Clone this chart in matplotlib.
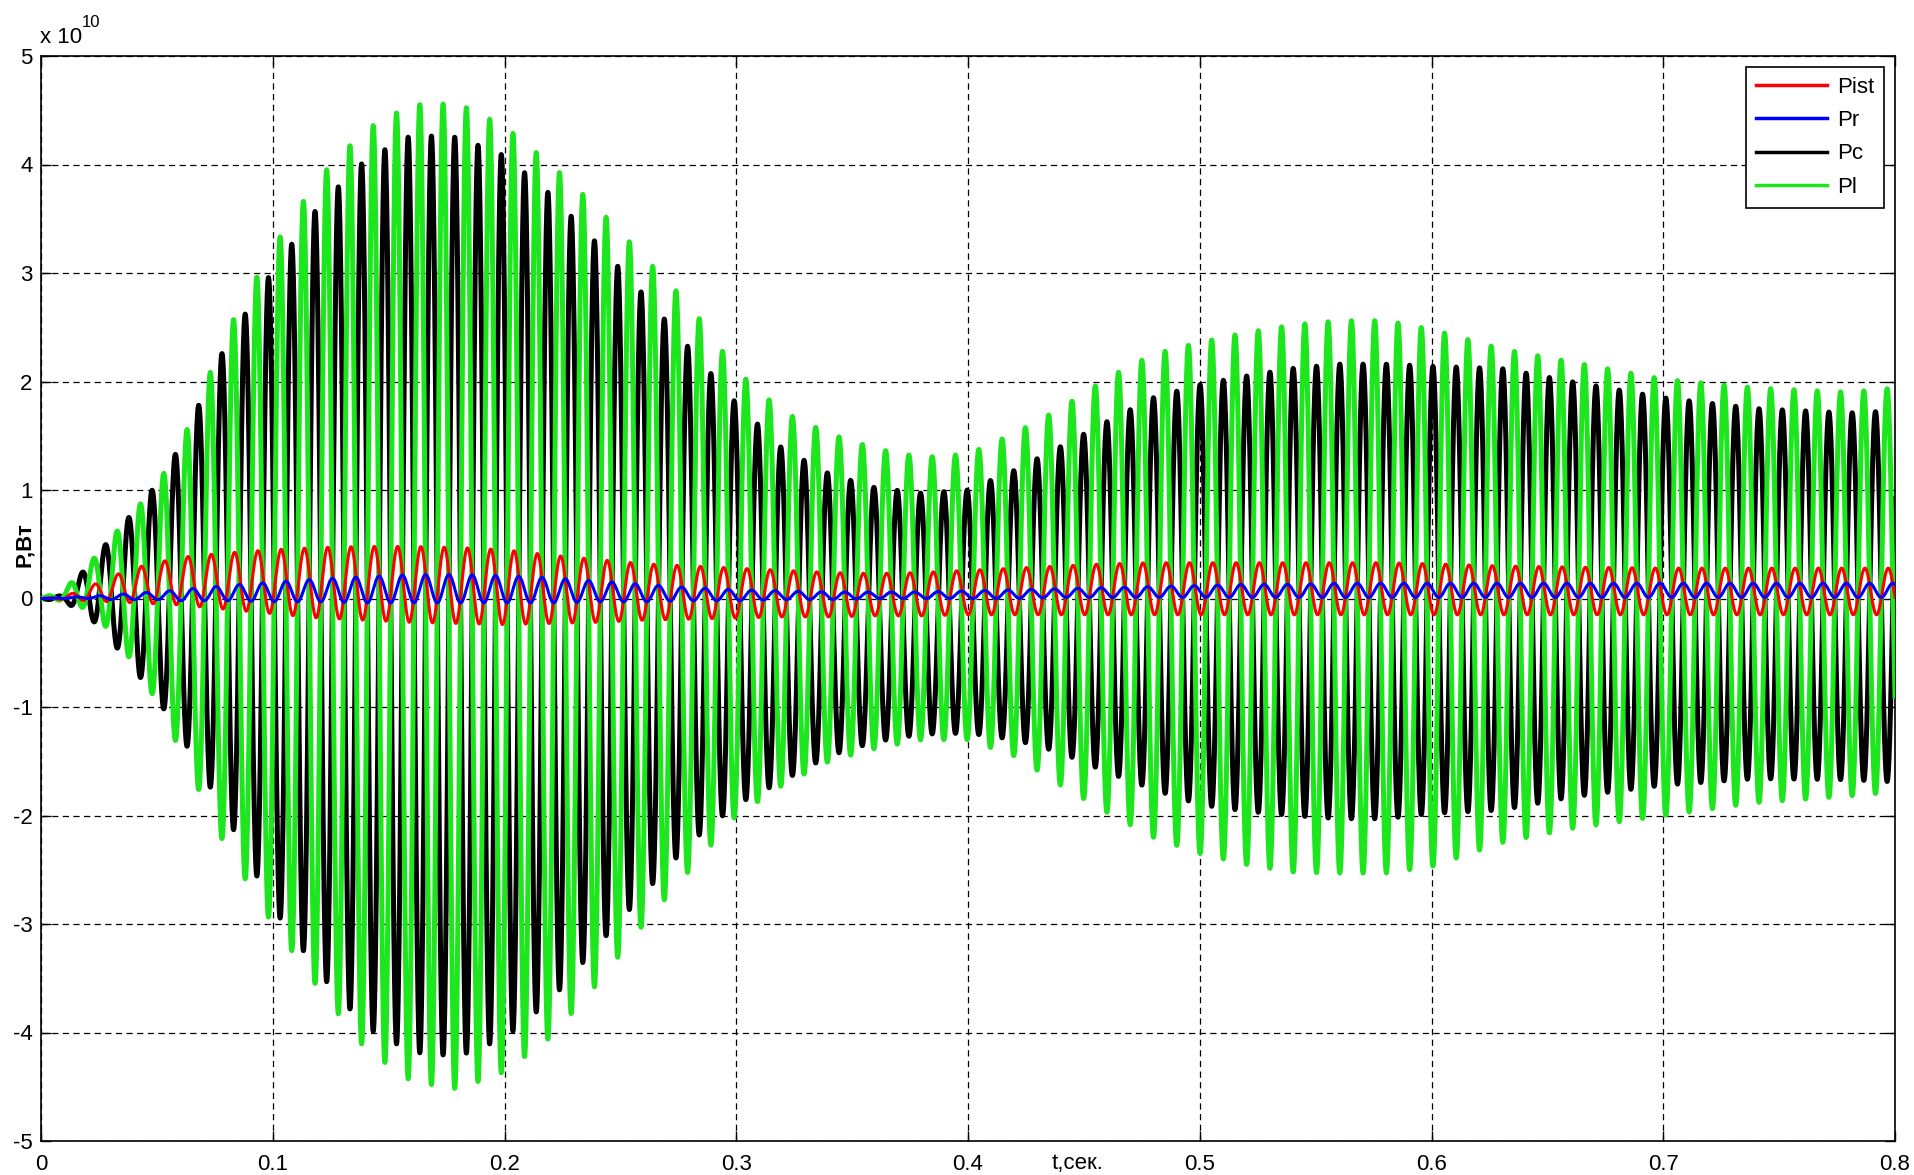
import numpy as np
import matplotlib
matplotlib.use("Agg")
import matplotlib.pyplot as plt

# envelope readings (x 1e10 W) at these times [s]
t_env = [0.00, 0.01, 0.02, 0.03, 0.04, 0.05, 0.06,
         0.08, 0.10, 0.12, 0.14, 0.16, 0.18, 0.20, 0.22, 0.24, 0.26, 0.28,
         0.30, 0.32, 0.34, 0.36, 0.38, 0.40, 0.42, 0.44, 0.46, 0.48, 0.50,
         0.52, 0.54, 0.56, 0.58, 0.60,
         0.63, 0.66, 0.70, 0.74, 0.78, 0.80]

pl_top = [0.00, 0.08, 0.30, 0.55, 0.80, 1.05, 1.40,
          2.45, 3.23, 3.88, 4.32, 4.55, 4.56, 4.35, 4.00, 3.60, 3.15, 2.70,
          2.10, 1.72, 1.52, 1.38, 1.30, 1.33, 1.52, 1.75, 2.03, 2.25, 2.36,
          2.45, 2.52, 2.56, 2.56, 2.48,
          2.30, 2.18, 2.02, 1.94, 1.90, 1.94]
pl_bot = [0.00, -0.02, -0.10, -0.30, -0.60, -0.95, -1.40,
          -2.30, -3.00, -3.60, -4.15, -4.45, -4.52, -4.36, -4.04, -3.55, -3.00, -2.50,
          -2.00, -1.72, -1.50, -1.38, -1.30, -1.30, -1.45, -1.72, -1.97, -2.20, -2.35,
          -2.45, -2.52, -2.53, -2.53, -2.47,
          -2.25, -2.12, -2.00, -1.88, -1.82, -1.78]

pc_top = [0.00, 0.03, 0.30, 0.55, 0.80, 1.05, 1.40,
          2.35, 3.02, 3.62, 4.04, 4.27, 4.25, 4.08, 3.72, 3.27, 2.80, 2.30,
          1.80, 1.38, 1.15, 1.02, 0.97, 1.00, 1.18, 1.40, 1.63, 1.85, 1.97,
          2.05, 2.12, 2.16, 2.16, 2.14,
          2.12, 2.00, 1.85, 1.75, 1.71, 1.73]
pc_bot = [0.00, -0.03, -0.15, -0.38, -0.65, -0.92, -1.25,
          -2.00, -2.85, -3.45, -3.95, -4.18, -4.22, -4.05, -3.70, -3.20, -2.72, -2.25,
          -1.90, -1.68, -1.45, -1.32, -1.25, -1.24, -1.30, -1.42, -1.60, -1.76, -1.90,
          -1.96, -2.00, -2.03, -2.03, -1.98,
          -1.95, -1.83, -1.72, -1.66, -1.67, -1.69]

pist_top = [0.00, 0.02, 0.10, 0.20, 0.28, 0.33, 0.38,
            0.42, 0.45, 0.47, 0.48, 0.48, 0.47, 0.45, 0.40, 0.36, 0.32, 0.30,
            0.28, 0.26, 0.24, 0.23, 0.24, 0.26, 0.28, 0.30, 0.32, 0.33, 0.33,
            0.33, 0.33, 0.33, 0.33, 0.32,
            0.30, 0.29, 0.28, 0.28, 0.28, 0.28]
pist_bot = [0.00, -0.01, -0.02, -0.03, -0.04, -0.05, -0.06,
            -0.10, -0.14, -0.18, -0.20, -0.22, -0.23, -0.24, -0.23, -0.22, -0.20, -0.19,
            -0.18, -0.17, -0.17, -0.16, -0.16, -0.15, -0.15, -0.15, -0.15, -0.15, -0.15,
            -0.15, -0.15, -0.15, -0.15, -0.15,
            -0.15, -0.15, -0.15, -0.15, -0.15, -0.15]

pr_top = [0.00, 0.01, 0.02, 0.03, 0.05, 0.06, 0.08,
          0.12, 0.15, 0.18, 0.20, 0.22, 0.22, 0.21, 0.19, 0.16, 0.13, 0.10,
          0.08, 0.07, 0.06, 0.06, 0.06, 0.07, 0.08, 0.09, 0.10, 0.11, 0.12,
          0.13, 0.13, 0.14, 0.14, 0.14,
          0.14, 0.14, 0.14, 0.14, 0.14, 0.14]
pr_bot = [0.00, 0.00, 0.00, -0.01, -0.01, -0.01, -0.02,
          -0.02, -0.03, -0.03, -0.04, -0.04, -0.04, -0.04, -0.04, -0.03, -0.03, -0.02,
          -0.02, -0.01, -0.01, 0.00, 0.00, 0.00, 0.00, 0.01, 0.01, 0.01, 0.01,
          0.01, 0.01, 0.01, 0.01, 0.01,
          0.01, 0.01, 0.01, 0.01, 0.01, 0.01]

period = 0.01005     # oscillation period read from the peak spacing
t_peak = 0.073       # time of one Pl peak

x_ticks = [0, 0.1, 0.2, 0.3, 0.4, 0.5, 0.6, 0.7, 0.8]
x_labels = ['0', '0.1', '0.2', '0.3', '0.4', '0.5', '0.6', '0.7', '0.8']
y_ticks = [-5, -4, -3, -2, -1, 0, 1, 2, 3, 4, 5]
y_labels = ['-5', '-4', '-3', '-2', '-1', '0', '1', '2', '3', '4', '5']

FONT = ['Liberation Sans Narrow', 'Liberation Sans', 'DejaVu Sans']
plt.rcParams['font.family'] = FONT

t = np.linspace(0, 0.8, 24001)
ph = 2 * np.pi * (t - t_peak) / period


def wave(top, bot, phase):
    hi = np.interp(t, t_env, top)
    lo = np.interp(t, t_env, bot)
    return (hi + lo) / 2 + (hi - lo) / 2 * np.cos(phase)


Pl = wave(pl_top, pl_bot, ph)
Pc = wave(pc_top, pc_bot, ph + np.pi)
Pist = wave(pist_top, pist_bot, ph - 0.3)
Pr = wave(pr_top, pr_bot, ph - np.pi / 2)

W, H = 1915, 1175
fig = plt.figure(figsize=(W / 100, H / 100), dpi=100)
ax = fig.add_axes([41 / W, 1 - 1141 / H, (1895 - 41) / W, (1141 - 56) / H])

lp, = ax.plot(t, Pist, color='#ff0000', lw=2.2, zorder=4, label='Pist')
lr, = ax.plot(t, Pr, color='#0000ff', lw=2.2, zorder=5, label='Pr')
lc, = ax.plot(t, Pc, color='#000000', lw=3.6, zorder=2, label='Pc')
lg, = ax.plot(t, Pl, color='#1ee61e', lw=3.6, zorder=3, label='Pl')

ax.set_xlim(0, 0.8)
ax.set_ylim(-5, 5)
ax.set_xticks(x_ticks)
ax.set_xticklabels(x_labels)
ax.set_yticks(y_ticks)
ax.set_yticklabels(y_labels)
ax.tick_params(direction='in', length=7, width=1, top=True, right=True,
               labelsize=16, pad=6)
ax.tick_params(axis='x', pad=9)
ax.grid(True, color='k', lw=0.9, linestyle=(0, (5, 3.5)))
for s in ax.spines.values():
    s.set_linewidth(1.2)

leg = ax.legend(handles=[lp, lr, lc, lg], loc='upper right',
                bbox_to_anchor=((1884 - 41) / (1895 - 41), 1 - (67 - 56) / (1141 - 56)),
                fontsize=16, frameon=True, fancybox=False, framealpha=1,
                edgecolor='k', handlelength=3.2, handletextpad=0.45,
                labelspacing=0.55, borderpad=0.45, borderaxespad=0)
leg.get_frame().set_linewidth(1.2)
for h in leg.legend_handles:
    h.set_linewidth(2.5)

fig.text(1078 / W, 1 - 1163 / H, 't,сек.', fontsize=16, ha='center', va='center')
fig.text(25 / W, 1 - 545 / H, 'P,Вт', fontsize=16, fontweight='bold',
         rotation=90, ha='center', va='center')
fig.text(40 / W, 1 - 43 / H, 'x 10', fontsize=16, ha='left', va='baseline')
fig.text(82 / W, 1 - 27 / H, '10', fontsize=12, ha='left', va='baseline')

fig.savefig('out.png', dpi=100)
